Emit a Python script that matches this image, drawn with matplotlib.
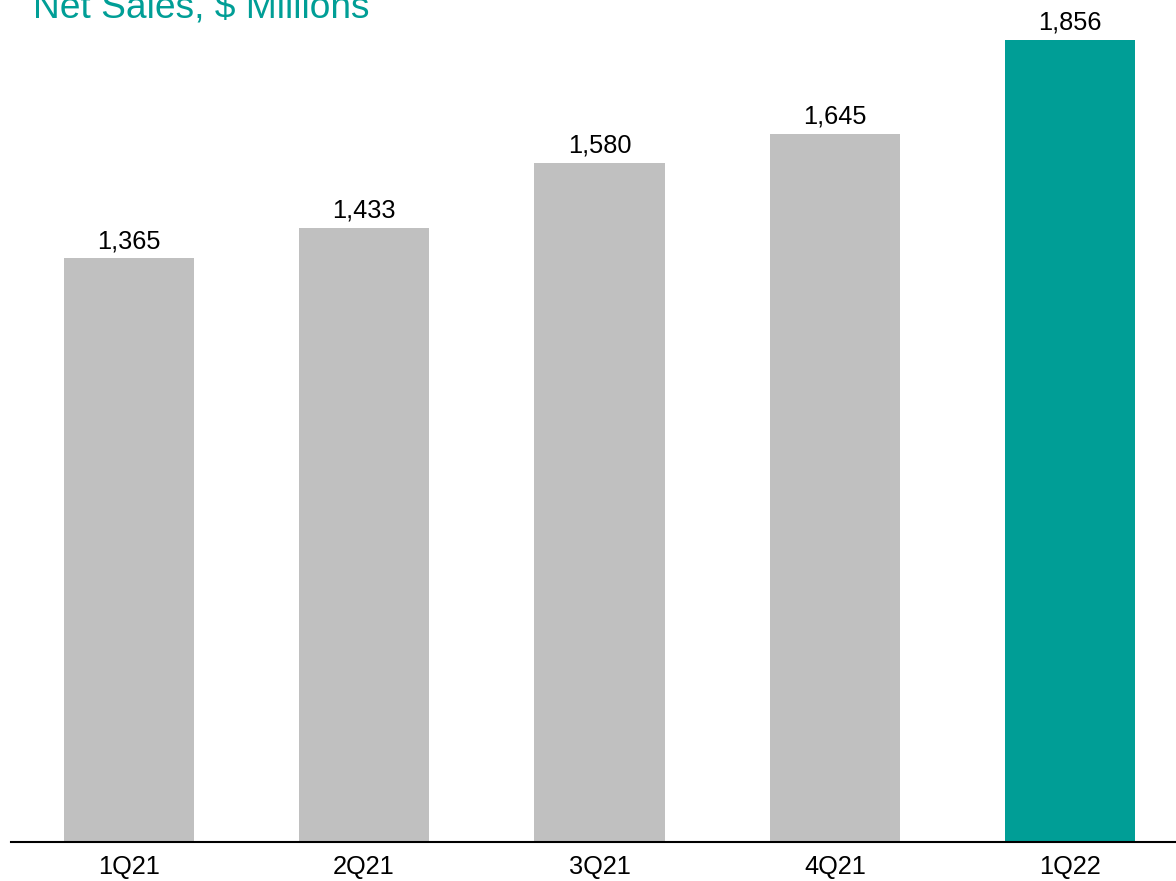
import matplotlib
matplotlib.use("Agg")
import matplotlib.pyplot as plt

quarters = ["1Q21", "2Q21", "3Q21", "4Q21", "1Q22"]
net_sales = [1365, 1433, 1580, 1645, 1856]
bar_colors = ["#C0C0C0", "#C0C0C0", "#C0C0C0", "#C0C0C0", "#009E96"]
title = "Net Sales, $ Millions"

plt.rcParams["font.family"] = ["Liberation Sans", "DejaVu Sans"]

W, H = 1176, 881
fig = plt.figure(figsize=(W / 100, H / 100), dpi=100)
base_px = 841.5
ax = fig.add_axes([11 / W, (H - base_px) / H, 1177 / W, base_px / H])

x = range(len(quarters))
ax.bar(x, net_sales, width=0.553, color=bar_colors, zorder=2)
ax.set_xlim(-0.5, 4.5)
ax.set_ylim(52, 1947)

for xi, v in zip(x, net_sales):
    ax.annotate(f"{v:,}", (xi, v), xytext=(0, 7.5), textcoords="offset points",
                ha="center", va="baseline", fontsize=18.3, color="#000000")

for s in ["top", "right", "left"]:
    ax.spines[s].set_visible(False)
ax.spines["bottom"].set_linewidth(1.5)
ax.spines["bottom"].set_color("#000000")
ax.set_yticks([])
ax.set_xticks(list(x))
ax.set_xticklabels(quarters, fontsize=18.3)
ax.tick_params(axis="x", length=0, pad=10)

fig.text(33 / W, (H - 17) / H, title, fontsize=26.7, color="#009E96",
         ha="left", va="baseline")

fig.savefig("out.png", dpi=100)
